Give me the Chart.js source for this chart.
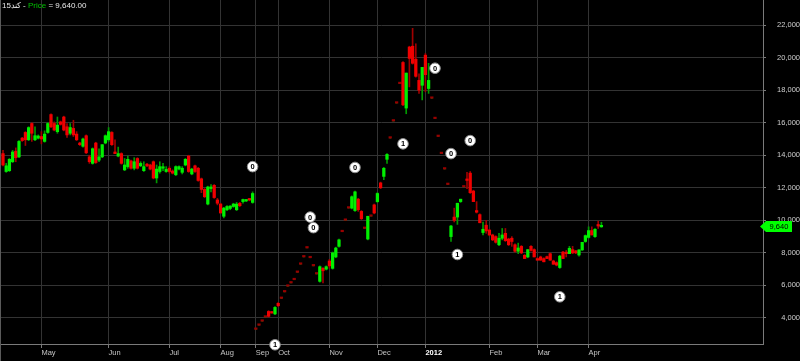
<!DOCTYPE html>
<html>
<head>
<meta charset="utf-8">
<script src="https://cdn.jsdelivr.net/npm/chart.js@4.4.1/dist/chart.umd.min.js"></script>
<style>
  html, body { margin:0; padding:0; background:#000; }
  #wrap { width:800px; height:361px; position:relative; }
</style>
</head>
<body>
<div id="wrap"><canvas id="priceChart"></canvas></div>
<script>
// ─── Data ─────────────────────────────────────────────────
const SYMBOL    = '15';
const SYMBOL_AR = 'كند';

// one row per trading day: [open, high, low, close]  (flat rows = O=H=L=C)
const ohlc = [
  [14100,14300,13350,13400],[13000,13500,12950,13350],[13050,13800,13000,13750],[13600,14300,13550,14200],
  [14250,14450,13600,13850],[13900,14900,13850,14850],[15050,15100,14850,14900],[15400,15450,14600,14950],
  [14950,15750,14900,15700],[15950,16000,14850,15350],[14950,15750,14900,15200],[15050,15250,15000,15180],
  [15150,15450,14700,15000],[14850,15500,14800,15300],[15400,16000,15350,15950],[16500,16550,15700,15750],
  [15950,16050,15500,15550],[15450,16350,15350,15850],[16050,16100,15850,15900],[16350,16400,15500,15550],
  [15750,15950,15100,15250],[15350,15950,15250,15700],[15650,16150,15150,15250],[15300,15450,14900,14950],
  [14750,14800,14600,14650],[14550,15050,14500,15000],[15200,15250,14100,14150],[13900,14000,13500,13600],
  [13500,14450,13450,14400],[14750,14800,13500,13550],[13700,14400,13600,13900],[13900,14650,13850,14650],
  [14750,15250,14700,15200],[14950,15700,14850,15450],[15400,15450,14600,14650],[14200,14950,14100,14100],
  [13950,14500,13900,14100],[14100,14150,13450,13500],[13100,13800,13050,13400],[13300,13950,13200,13750],
  [13650,13700,13150,13200],[13200,13850,13100,13600],[13800,13850,13150,13200],[13350,13600,13300,13500],
  [13050,13600,13000,13300],[13450,13500,13300,13350],[13400,13450,13100,13150],[13600,13650,12550,12600],
  [12600,13400,12300,13150],[13000,13600,12900,13300],[13200,13500,13050,13250],[13000,13300,12950,13130],
  [13200,13300,12900,13000],[13030,13100,12850,12900],[12800,13350,12750,13300],[13150,13350,13100,13300],
  [12950,13300,12850,13200],[13400,13800,13350,13750],[13950,14000,12950,13000],[12850,13200,12800,13150],
  [13350,13400,12950,13000],[13200,13250,12400,12450],[12550,12600,11700,11900],[11900,11950,11400,11450],
  [11000,12100,10950,12050],[11950,12200,11750,12050],[12150,12200,11350,11400],[11250,11350,10950,11050],
  [11000,11050,10450,10450],[10250,10800,10150,10750],[10650,10900,10600,10850],[10730,10900,10650,10880],
  [10850,11050,10800,11000],[10650,11100,10600,11000],[11050,11100,10850,10900],[11150,11300,11050,11280],
  [11190,11250,11150,11250],[11300,11350,11200,11250],[11100,11750,11050,11650],
  // Sep
  [3300,3300,3300,3300],[3550,3550,3550,3550],[3800,3800,3800,3800],[4050,4050,4050,4050],
  [4400,4450,4050,4100],[4350,4400,4300,4300],[4250,4700,4200,4650],[4900,4950,4700,4750],
  [5200,5200,5200,5200],[5600,5600,5600,5600],[5950,5950,5950,5950],[6150,6150,6150,6150],
  [6350,6350,6350,6350],[6800,6800,6800,6800],[7300,7300,7300,7300],[7750,7750,7750,7750],
  [8300,8300,8300,8300],[7700,7700,7700,7700],[7200,7200,7200,7200],[6700,6700,6700,6700],
  [6250,7200,6200,7150],[7050,7100,6150,6900],[7000,7200,6950,7150],[7500,7600,7050,7200],
  [7050,8050,7000,8000],[7750,8350,7700,8300],[8400,8850,8350,8800],[9300,9300,9300,9300],
  [10000,10000,10000,10000],[10750,10750,10750,10750],[10750,11500,10700,11450],[10600,11800,10550,11750],
  [11300,11350,10550,10650],[10550,10600,10050,10100],[9500,9500,9500,9500],[8850,10250,8800,10250],
  [10250,10250,10250,10250],[10950,11000,10400,10450],[11150,11700,11100,11650],[12300,12350,11950,12000],
  [12700,13250,12500,13200],[13750,14100,13500,14050],[15050,15050,15050,15050],[16100,16100,16100,16100],
  [17200,17200,17200,17200],[18400,18400,18400,18400],[19700,19750,17050,17100],[16900,19050,16550,19050],
  [20650,20700,18200,19950],[20700,21800,19600,19650],[19900,20850,18800,18850],[18600,19000,17800,18000],
  [18300,19400,17400,19400],[20150,20250,17900,18950],[18100,19650,17800,18600],[17500,17500,17500,17500],
  [16250,16250,16250,16250],[15150,15150,15150,15150],[14100,14100,14100,14100],[13150,13150,13150,13150],
  [12200,12200,12200,12200],[9000,9700,8700,9650],[10200,10750,9900,10000],[10200,11050,9750,11050],
  [11150,11300,11100,11300],[12050,12050,12050,12050],[12500,12950,11950,12450],[12900,13000,11650,11700],
  [11800,11850,11150,11150],[10600,11150,10450,10500],[10350,10400,9850,9850],[9250,9900,9100,9450],
  [9700,10000,9200,9350],[9400,9450,9050,9100],[9100,9150,8750,8800],[9000,9050,8600,8650],
  [8500,9200,8450,8900],[8900,9500,8800,9100],[9200,9500,8700,8750],[8850,8900,8450,8500],
  [8900,9000,8400,8700],[8500,8550,8050,8100],[8100,8600,7950,8300],[8400,8450,7950,8000],
  [7850,7900,7650,7650],[7750,8200,7700,8200],[8400,8450,8100,8150],[8200,8250,7750,7750],
  [7650,7700,7550,7550],[7750,7800,7550,7550],[7650,7700,7450,7450],[7770,7800,7650,7650],
  [7950,8000,7550,7550],[7500,7550,7300,7300],[7400,7450,7200,7250],[7100,7850,7050,7800],
  [8050,8100,7650,7650],[8000,8150,7750,7950],[7950,8400,7950,8280],[8200,8400,7950,8000],
  [8130,8150,7950,8000],[7870,8200,7800,8180],[8180,8650,8150,8650],[8700,9100,8650,9060],
  [8950,9600,8900,9370],[9370,9600,9100,9100],[9000,9500,8950,9450],[9700,9950,9500,9650],
  [9600,9880,9570,9640],
];

// month ticks (day index of first session) and their labels
const monthIdx = [12, 33, 52, 68, 79, 86, 102, 117, 132, 152, 167, 183];
const monthLbl = ['May','Jun','Jul','Aug','Sep','Oct','Nov','Dec','2012','Feb','Mar','Apr'];
const yTicks   = [4000, 6000, 8000, 10000, 12000, 14000, 16000, 18000, 20000, 22000];

// event markers (day index, price, digit)
const markIdx = [78, 85, 96, 97, 110, 125, 135, 140, 142, 146, 174];
const markVal = [13300, 2350, 10200, 9550, 13250, 14700, 19350, 14100, 7900, 14900, 5300];
const markTxt = ['0', '1', '0', '0', '0', '1', '0', '0', '1', '0', '1'];

// ─── Theme ────────────────────────────────────────────────
const FONT = "'Liberation Sans', Arial, sans-serif";
const C = { up:'#00f000', down:'#f00000', upWick:'#009a00', downWick:'#a00000', flat:'#9a0000',
            grid:'#333333', axis:'#7a7a7a', label:'#cfcfcf', text:'#e8e8e8', price:'#00c000', tag:'#00ff00' };
Chart.defaults.font.family = FONT;
Chart.defaults.font.size   = 7.5;
Chart.defaults.color       = C.label;

const fmt = (v, d = 0) => v.toLocaleString('en-US', { minimumFractionDigits: d, maximumFractionDigits: d });
const bodyColor = r => r[3] > r[0] ? C.up : (r[3] < r[0] ? C.down : C.flat);
const wickColor = r => r[3] >= r[0] ? C.upWick : C.downWick;
const lastClose = ohlc[ohlc.length - 1][3];

// ─── Overlay: marker digits, header, price tag ───────────
const overlay = {
  id: 'overlay',
  afterDatasetsDraw(chart) {
    const ctx = chart.ctx;
    const meta = chart.getDatasetMeta(2);
    ctx.save();
    ctx.font = `bold 7.5px ${FONT}`;
    ctx.fillStyle = '#000';
    ctx.textAlign = 'center';
    ctx.textBaseline = 'middle';
    meta.data.forEach((pt, j) => ctx.fillText(markTxt[j], pt.x, pt.y + 0.5));
    ctx.restore();
  },
  afterDraw(chart) {
    const { ctx, chartArea } = chart;
    const yScale = chart.scales.y;
    ctx.save();
    // left frame
    ctx.strokeStyle = '#5a5a5a';
    ctx.lineWidth = 1;
    ctx.beginPath(); ctx.moveTo(0.5, 0); ctx.lineTo(0.5, chart.height); ctx.stroke();

    // header
    ctx.font = `8px ${FONT}`;
    ctx.textBaseline = 'middle';
    ctx.textAlign = 'left';
    let x = 2;
    [[SYMBOL, C.text], [SYMBOL_AR, C.text], [' - ', C.text], ['Price', C.price], [' = ' + fmt(lastClose, 2), C.text]]
      .forEach(([t, col]) => { ctx.fillStyle = col; ctx.fillText(t, x, 5.5); x += ctx.measureText(t).width; });

    // last price tag
    const y = Math.round(yScale.getPixelForValue(lastClose)) + 0.5;
    const r = chartArea.right;
    ctx.fillStyle = C.tag;
    ctx.beginPath();
    ctx.moveTo(r - 3, y); ctx.lineTo(r + 3, y - 5.5); ctx.lineTo(r + 29, y - 5.5);
    ctx.lineTo(r + 29, y + 5.5); ctx.lineTo(r + 3, y + 5.5); ctx.closePath();
    ctx.fill();
    ctx.fillStyle = '#000';
    ctx.font = `7.5px ${FONT}`;
    ctx.textAlign = 'center';
    ctx.fillText(fmt(lastClose), r + 16, y + 0.5);
    ctx.restore();
  },
};

// ─── Chart ────────────────────────────────────────────────
new Chart(document.getElementById('priceChart'), {
  type: 'bar',
  data: {
    datasets: [
      {
        label: 'body', order: 1, grouped: false, barThickness: 2.6, minBarLength: 1.5, borderWidth: 0,
        data: ohlc.map((r, i) => ({ x: i, y: [r[0], r[3]] })),
        backgroundColor: ohlc.map(bodyColor),
      },
      {
        label: 'wick', order: 2, grouped: false, barThickness: 1, borderWidth: 0,
        data: ohlc.map((r, i) => ({ x: i, y: [r[2], r[1]] })),
        backgroundColor: ohlc.map(wickColor),
      },
      {
        type: 'scatter', label: 'events', order: 0, clip: false,
        data: markIdx.map((d, j) => ({ x: d, y: markVal[j] })),
        pointRadius: 5.3, pointBackgroundColor: '#fff', pointBorderColor: '#8a8a8a', pointBorderWidth: 1,
      },
    ],
  },
  options: {
    responsive: true, maintainAspectRatio: false, animation: false,
    layout: { padding: 0, autoPadding: false },
    plugins: { legend: { display: false }, tooltip: { enabled: false } },
    scales: {
      x: {
        type: 'linear', min: -0.94, max: 237.5, offset: false,
        grid: { color: C.grid, offset: false, tickLength: 4, tickColor: C.axis },
        border: { color: C.axis },
        afterBuildTicks: s => { s.ticks = monthIdx.map(v => ({ value: v })); },
        afterFit: s => { s.height = 17; s.paddingLeft = 0; s.paddingRight = 0; },
        ticks: {
          align: 'start', autoSkip: false, maxRotation: 0, padding: 0,
          callback: v => monthLbl[monthIdx.indexOf(v)],
          color: c => (c.tick && c.tick.label === '2012') ? '#ffffff' : '#c4c4c4',
          font: c => ({ size: 7.5, weight: (c.tick && c.tick.label === '2012') ? 'bold' : 'normal' }),
        },
      },
      y: {
        position: 'right', min: 2400, max: 23540,
        grid: { color: C.grid, tickLength: 3, tickColor: C.axis },
        border: { color: C.axis },
        afterBuildTicks: s => { s.ticks = yTicks.map(v => ({ value: v })); },
        afterFit: s => { s.width = 37; s.paddingTop = 0; s.paddingBottom = 0; },
        ticks: { crossAlign: 'far', padding: 7, color: C.label, callback: v => fmt(v) },
      },
    },
  },
  plugins: [overlay],
});
</script>
</body>
</html>
